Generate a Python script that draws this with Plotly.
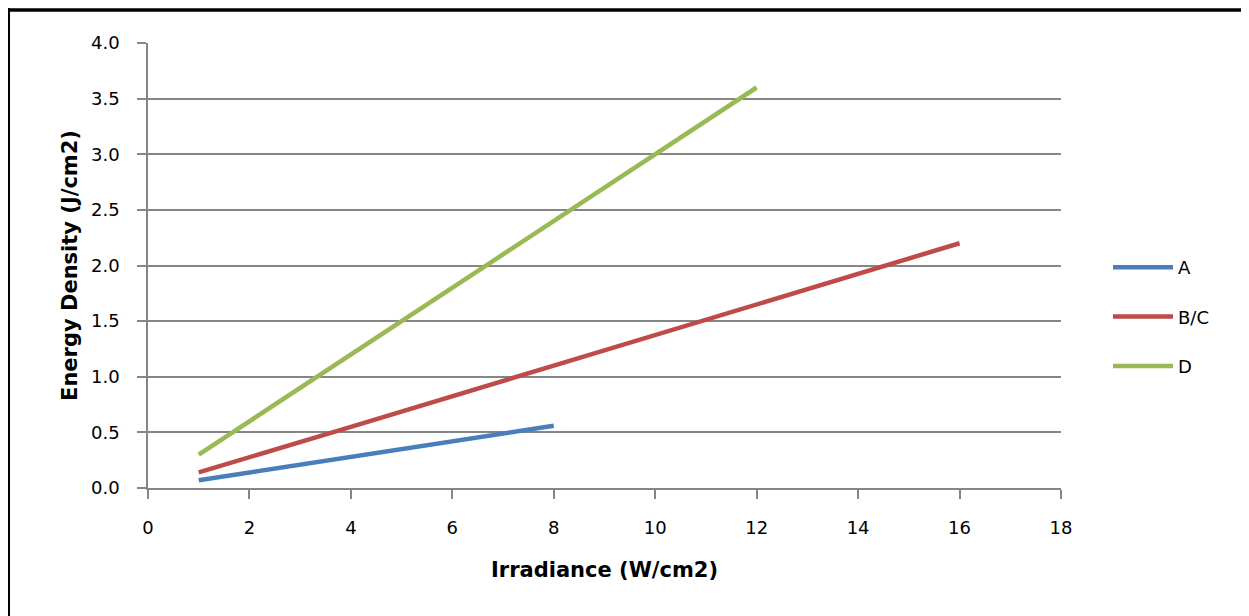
import plotly.graph_objects as go

# Data
a_x = [1, 2, 4, 8]
a_y = [0.07, 0.14, 0.28, 0.56]
bc_x = [1, 2, 4, 8, 16]
bc_y = [0.14, 0.275, 0.55, 1.1, 2.2]
d_x = [1, 2, 4, 8, 12]
d_y = [0.3, 0.6, 1.2, 2.4, 3.6]

x_ticks = [0, 2, 4, 6, 8, 10, 12, 14, 16, 18]
y_ticks = [0.0, 0.5, 1.0, 1.5, 2.0, 2.5, 3.0, 3.5, 4.0]
y_tick_text = ["0.0", "0.5", "1.0", "1.5", "2.0", "2.5", "3.0", "3.5", "4.0"]

series = [
    ("A", a_x, a_y, "#4a7ebb"),
    ("B/C", bc_x, bc_y, "#be4b48"),
    ("D", d_x, d_y, "#98b954"),
]

fig = go.Figure()
for i, (name, xs, ys, col) in enumerate(series):
    fig.add_trace(go.Scatter(x=xs, y=ys, mode="lines", name=name,
                             legendgroup=f"g{i}",
                             line=dict(color=col, width=4.5)))

font_family = "DejaVu Sans"
tick_size = 18
title_size = 21
# page body has an 8px margin; figure is sized so it fills the window
W, H = 1241, 608
L, R, T, B = 140, 188, 35, 128
pw, ph = W - L - R, H - T - B

def px_x(p):
    return (p - L) / pw

def px_y(p):
    return (H - B - p) / ph

fig.update_layout(
    width=W, height=H,
    margin=dict(l=L, r=R, t=T, b=B, pad=0),
    paper_bgcolor="white", plot_bgcolor="white",
    font=dict(family=font_family, size=tick_size, color="#000000"),
    showlegend=True,
    legend=dict(x=px_x(1100), y=px_y(241), xanchor="left", yanchor="top",
                font=dict(family=font_family, size=tick_size, color="#000000"),
                tracegroupgap=23, itemwidth=60, bgcolor="rgba(0,0,0,0)"),
    xaxis=dict(range=[0, 18], tickvals=x_ticks, ticks="outside", ticklen=9,
               tickcolor="#868686", tickwidth=1.5,
               tickfont=dict(size=tick_size),
               showline=True, linecolor="#868686", linewidth=1.5,
               showgrid=False, zeroline=False, ticklabelstandoff=14,
               title=dict(text="<b>Irradiance (W/cm2)</b>", standoff=25,
                          font=dict(family=font_family, size=title_size))),
    yaxis=dict(range=[0, 4], tickvals=y_ticks, ticktext=y_tick_text,
               ticks="outside", ticklen=9, tickcolor="#868686", tickwidth=1.5,
               tickfont=dict(size=tick_size),
               showline=True, linecolor="#868686", linewidth=1.5,
               showgrid=True, gridcolor="#868686", gridwidth=1.5,
               zeroline=False, ticklabelstandoff=14,
               title=dict(text="<b>Energy Density (J/cm2)</b>", standoff=8,
                          font=dict(family=font_family, size=title_size))),
)

# outer frame like the reference
fig.add_shape(type="line", xref="paper", yref="paper",
              x0=px_x(0), x1=px_x(0), y0=px_y(H), y1=px_y(0),
              line=dict(color="black", width=4))
fig.add_shape(type="line", xref="paper", yref="paper",
              x0=px_x(0), x1=px_x(W), y0=px_y(2), y1=px_y(2),
              line=dict(color="black", width=3.5))
fig.add_shape(type="line", xref="paper", yref="paper",
              x0=px_x(W - 1), x1=px_x(W - 1), y0=px_y(H), y1=px_y(3),
              line=dict(color="#b0b0b0", width=1.5))

fig.write_html("out.html")
